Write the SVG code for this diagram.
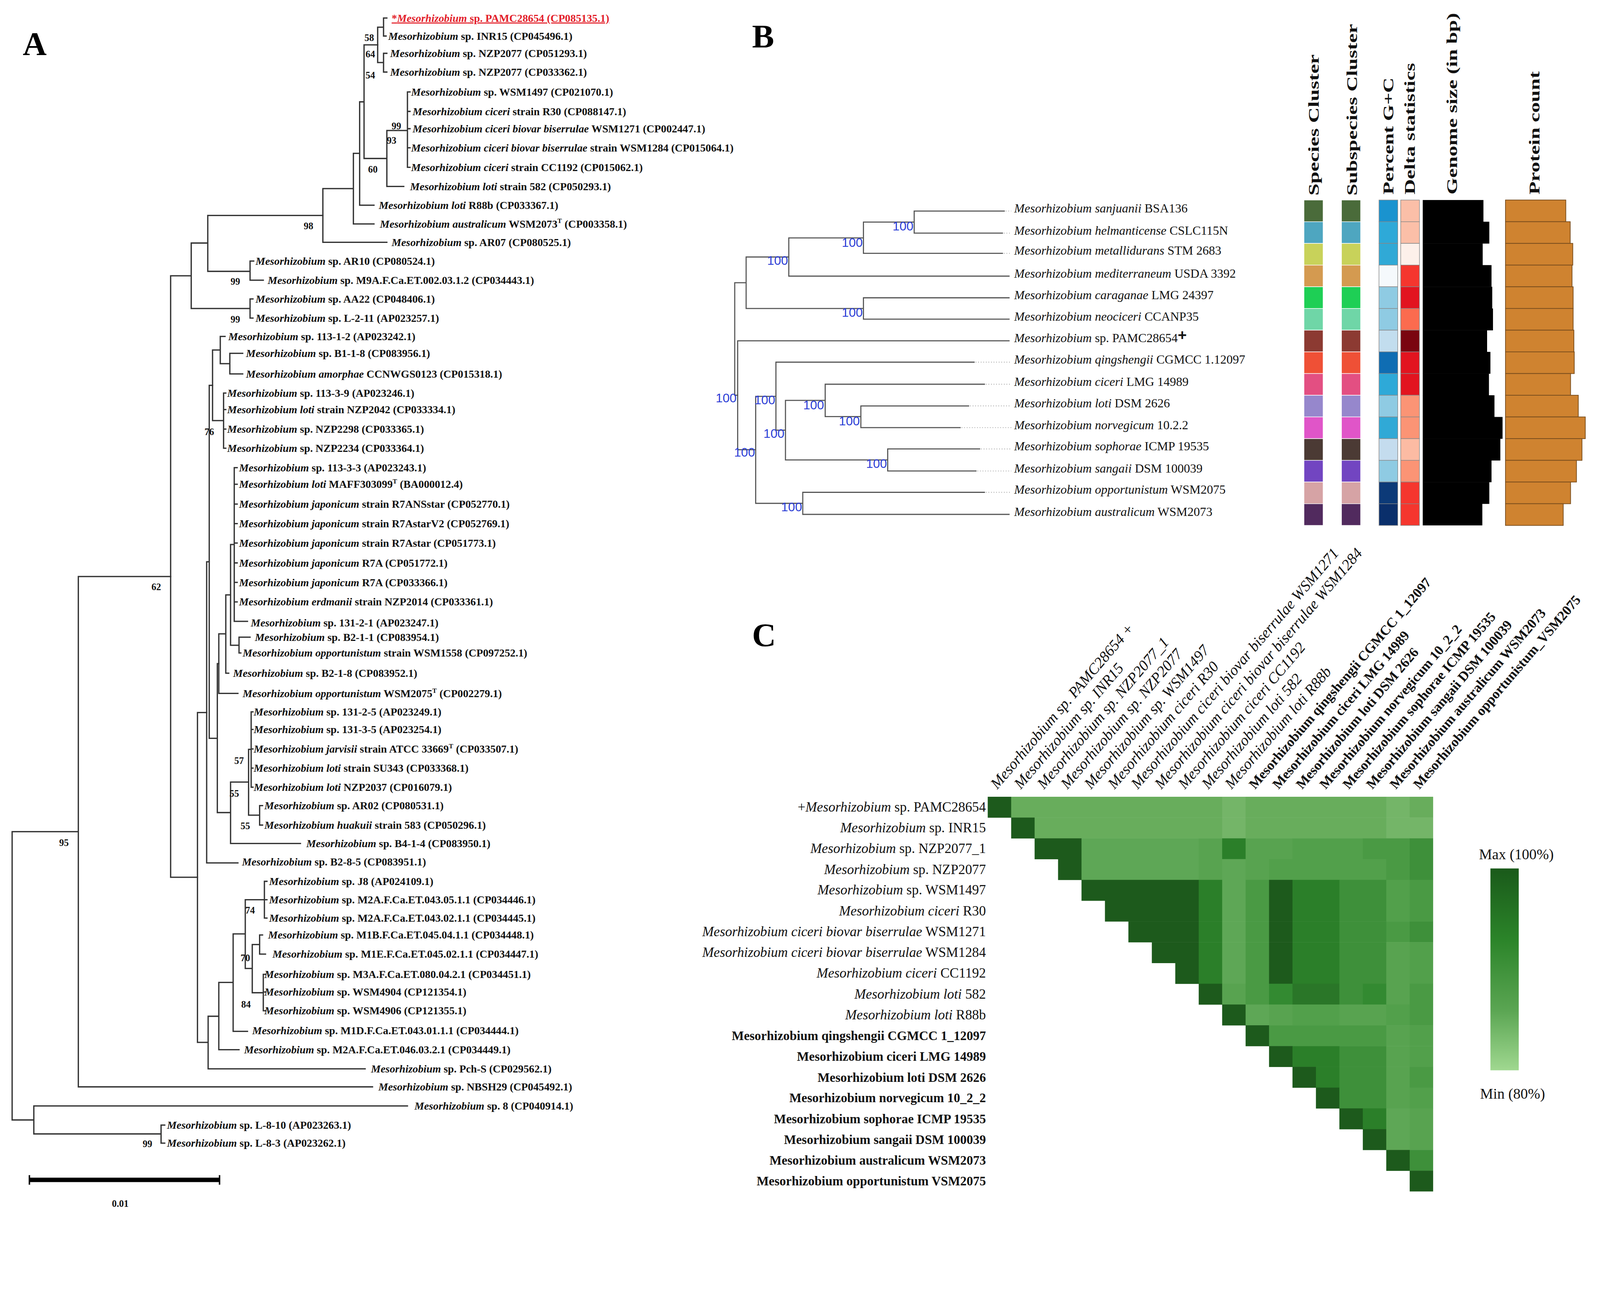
<svg xmlns="http://www.w3.org/2000/svg" width="4351" height="3308" viewBox="0 0 4351 3308" preserveAspectRatio="xMinYMin meet" style="max-width:100%">
<defs>
<linearGradient id="gLeg" x1="0" y1="0" x2="0" y2="1">
<stop offset="0" stop-color="#1a5a1a"/><stop offset="0.35" stop-color="#2b8429"/><stop offset="0.7" stop-color="#5aa552"/><stop offset="1" stop-color="#a0d890"/>
</linearGradient>
</defs>
<style>
.ta{font-family:"Liberation Serif",serif;font-size:29.5px;font-weight:bold;fill:#111}
.i{font-style:italic}
.sup{font-size:18px}
.bs{font-family:"Liberation Serif",serif;font-size:26px;font-weight:bold;fill:#111;text-anchor:middle}
.br{fill:none;stroke:#333;stroke-width:3.5;stroke-linecap:square}
.bt{fill:none;stroke:#555;stroke-width:3;stroke-linecap:square}
.dot{fill:none;stroke:#9a9a9a;stroke-width:2;stroke-dasharray:2 5}
.tb{font-family:"Liberation Serif",serif;font-size:34px;fill:#111}
.bv{font-family:"Liberation Sans",sans-serif;font-size:34px;fill:#2a3dd6;text-anchor:end}
.pl{font-family:"Liberation Serif",serif;font-size:90px;font-weight:bold;fill:#000}
.hd{font-family:"Liberation Serif",serif;font-size:56px;font-weight:bold;fill:#111}
.rl{font-family:"Liberation Serif",serif;font-size:37.5px;fill:#111;text-anchor:end}
.rb{font-weight:bold;font-size:35px}
.cl{font-family:"Liberation Serif",serif;font-size:41.5px;font-style:italic;fill:#111}
.cb{font-weight:bold;font-style:normal;font-size:37.5px}
.lg{font-family:"Liberation Serif",serif;font-size:40px;fill:#111}
.sc rect{stroke:#fff;stroke-width:1.5}
.gc rect{stroke:#888;stroke-width:1.5}
.pc rect{fill:#cf8330;stroke:#7a4e1e;stroke-width:2}
.D{fill:#1d5a1c}.S{fill:#2b7f29}.T{fill:#338a31}.V{fill:#2a7628}.M{fill:#3e903a}.N{fill:#4a9a44}.P{fill:#52a04b}.Q{fill:#58a350}.R{fill:#5ea756}.L{fill:#68ad5c}.K{fill:#74b568}
</style>
<rect width="4351" height="3308" fill="#fff"/>

<!-- Panel labels -->
<text class="pl" x="62" y="150">A</text>
<text class="pl" x="2045" y="130">B</text>
<text class="pl" x="2045" y="1758">C</text>

<!-- ===== Panel A tree connectors ===== -->
<g id="treeA-connectors" class="br">
<path d="M1043,49V98M1043,49H1052M1043,98H1050M1043,145V196M1043,145H1052M1043,196H1052M1027,74V170M1027,74H1043M1027,170H1043"/>
<path d="M1108,250V455M1108,250H1115M1108,303H1115M1108,350H1115M1108,402H1115M1108,455H1115M1052,355V507M1052,355H1108M1052,507H1098"/>
<path d="M990,122V431M990,122H1027M990,431H1052M978,277V558M978,277H990M978,558H1017M961,417V609M961,417H978M961,609H1017M878,513V659M878,513H961M878,659H1052"/>
<path d="M565,586V738M565,586H878M565,738H680M680,710V762M680,710H690M680,762H716M520,661V839M520,661H565M520,839H680M680,813V865M680,813H688M680,865H688M464,750V2386M464,750H520M464,2386H537"/>
<path d="M625,961V1017M625,961H660M625,1017H660M599,915V989M599,915H612M599,989H625M608,1069V1219M608,1069H614M608,1114H614M608,1167H614M608,1219H614M578,952V1144M578,952H599M578,1144H608"/>
<path d="M637,1272V1690M637,1272H645M637,1317H645M637,1371H645M637,1424H645M637,1477H645M637,1531H645M637,1584H645M637,1637H645M637,1690H673M650,1733V1776M650,1733H680M650,1776H655M627,1481V1755M627,1481H637M627,1755H650M614,1618V1831M614,1618H627M614,1831H622M595,1724V1886M595,1724H614M595,1886H647"/>
<path d="M683,1936V2141M683,1936H688M683,1984H688M683,2037H688M683,2089H688M683,2141H688M706,2191V2244M706,2191H714M706,2244H714M676,2038V2217M676,2038H683M676,2217H706M627,2127V2294M627,2127H676M627,2294H817M591,1805V2210M591,1805H595M591,2210H627M569,1048V2008M569,1048H578M569,2008H591M562,1528V2347M562,1528H569M562,2347H647"/>
<path d="M719,2397V2497M719,2397H726M719,2447H726M719,2497H726M706,2543V2595M706,2543H714M706,2595H722M716,2650V2749M716,2650H722M716,2698H722M716,2749H722M686,2569V2700M686,2569H706M686,2700H716M667,2447V2634M667,2447H719M667,2634H686M634,2540V2805M634,2540H667M634,2805H673M595,2672V2855M595,2672H634M595,2855H650M566,2764V2907M566,2764H595M566,2907H993M537,1938V2835M537,1938H562M537,2835H566"/>
<path d="M213,1568V2956M213,1568H464M213,2956H1013M438,3060V3109M438,3060H448M438,3109H448M92,3008V3084M92,3008H1108M92,3084H438M33,2262V3046M33,2262H213M33,3046H92"/>
</g>

<!-- bootstrap values A -->
<g id="bootA">
<text class="bs" x="1004" y="112">58</text><text class="bs" x="1007" y="156">64</text><text class="bs" x="1007" y="214">54</text>
<text class="bs" x="1078" y="352">99</text><text class="bs" x="1065" y="391">93</text><text class="bs" x="1014" y="469">60</text>
<text class="bs" x="839" y="624">98</text><text class="bs" x="640" y="774">99</text><text class="bs" x="640" y="877">99</text>
<text class="bs" x="569" y="1183">76</text><text class="bs" x="425" y="1605">62</text><text class="bs" x="650" y="2078">57</text>
<text class="bs" x="637" y="2167">55</text><text class="bs" x="667" y="2255">55</text><text class="bs" x="174" y="2301">95</text>
<text class="bs" x="680" y="2485">74</text><text class="bs" x="667" y="2614">70</text><text class="bs" x="669" y="2741">84</text>
<text class="bs" x="401" y="3120">99</text>
</g>

<!-- leaves A -->
<g id="a01"><text class="ta" x="1065" y="59" style="fill:#e3202a" text-decoration="underline">*<tspan class="i">Mesorhizobium</tspan> sp. PAMC28654 (CP085135.1)</text></g>
<g id="a02"><text class="ta" x="1056" y="108"><tspan class="i">Mesorhizobium</tspan> sp. INR15 (CP045496.1)</text></g>
<g id="a03"><text class="ta" x="1061" y="155"><tspan class="i">Mesorhizobium</tspan> sp. NZP2077 (CP051293.1)</text></g>
<g id="a04"><text class="ta" x="1061" y="206"><tspan class="i">Mesorhizobium</tspan> sp. NZP2077 (CP033362.1)</text></g>
<g id="a05"><text class="ta" x="1118" y="260"><tspan class="i">Mesorhizobium</tspan> sp. WSM1497 (CP021070.1)</text></g>
<g id="a06"><text class="ta" x="1122" y="313"><tspan class="i">Mesorhizobium ciceri</tspan> strain R30 (CP088147.1)</text></g>
<g id="a07"><text class="ta" x="1122" y="360"><tspan class="i">Mesorhizobium ciceri biovar biserrulae</tspan> WSM1271 (CP002447.1)</text></g>
<g id="a08"><text class="ta" x="1118" y="412"><tspan class="i">Mesorhizobium ciceri biovar biserrulae</tspan> strain WSM1284 (CP015064.1)</text></g>
<g id="a09"><text class="ta" x="1118" y="465"><tspan class="i">Mesorhizobium ciceri</tspan> strain CC1192 (CP015062.1)</text></g>
<g id="a10"><text class="ta" x="1115" y="517"><tspan class="i">Mesorhizobium loti</tspan> strain 582 (CP050293.1)</text></g>
<g id="a11"><text class="ta" x="1030" y="568"><tspan class="i">Mesorhizobium loti</tspan> R88b (CP033367.1)</text></g>
<g id="a12"><text class="ta" x="1033" y="619"><tspan class="i">Mesorhizobium australicum</tspan> WSM2073<tspan class="sup" dy="-12">T</tspan><tspan dy="12"> (CP003358.1)</tspan></text></g>
<g id="a13"><text class="ta" x="1065" y="669"><tspan class="i">Mesorhizobium</tspan> sp. AR07 (CP080525.1)</text></g>
<g id="a14"><text class="ta" x="695" y="720"><tspan class="i">Mesorhizobium</tspan> sp. AR10 (CP080524.1)</text></g>
<g id="a15"><text class="ta" x="728" y="772"><tspan class="i">Mesorhizobium</tspan> sp. M9A.F.Ca.ET.002.03.1.2 (CP034443.1)</text></g>
<g id="a16"><text class="ta" x="695" y="823"><tspan class="i">Mesorhizobium</tspan> sp. AA22 (CP048406.1)</text></g>
<g id="a17"><text class="ta" x="695" y="875"><tspan class="i">Mesorhizobium</tspan> sp. L-2-11 (AP023257.1)</text></g>
<g id="a18"><text class="ta" x="621" y="925"><tspan class="i">Mesorhizobium</tspan> sp. 113-1-2 (AP023242.1)</text></g>
<g id="a19"><text class="ta" x="669" y="971"><tspan class="i">Mesorhizobium</tspan> sp. B1-1-8 (CP083956.1)</text></g>
<g id="a20"><text class="ta" x="669" y="1027"><tspan class="i">Mesorhizobium amorphae</tspan> CCNWGS0123 (CP015318.1)</text></g>
<g id="a21"><text class="ta" x="618" y="1079"><tspan class="i">Mesorhizobium</tspan> sp. 113-3-9 (AP023246.1)</text></g>
<g id="a22"><text class="ta" x="618" y="1124"><tspan class="i">Mesorhizobium loti</tspan> strain NZP2042 (CP033334.1)</text></g>
<g id="a23"><text class="ta" x="618" y="1177"><tspan class="i">Mesorhizobium</tspan> sp. NZP2298 (CP033365.1)</text></g>
<g id="a24"><text class="ta" x="618" y="1229"><tspan class="i">Mesorhizobium</tspan> sp. NZP2234 (CP033364.1)</text></g>
<g id="a25"><text class="ta" x="650" y="1282"><tspan class="i">Mesorhizobium</tspan> sp. 113-3-3 (AP023243.1)</text></g>
<g id="a26"><text class="ta" x="650" y="1327"><tspan class="i">Mesorhizobium loti</tspan> MAFF303099<tspan class="sup" dy="-12">T</tspan><tspan dy="12"> (BA000012.4)</tspan></text></g>
<g id="a27"><text class="ta" x="650" y="1381"><tspan class="i">Mesorhizobium japonicum</tspan> strain R7ANSstar (CP052770.1)</text></g>
<g id="a28"><text class="ta" x="650" y="1434"><tspan class="i">Mesorhizobium japonicum</tspan> strain R7AstarV2 (CP052769.1)</text></g>
<g id="a29"><text class="ta" x="650" y="1487"><tspan class="i">Mesorhizobium japonicum</tspan> strain R7Astar (CP051773.1)</text></g>
<g id="a30"><text class="ta" x="650" y="1541"><tspan class="i">Mesorhizobium japonicum</tspan> R7A (CP051772.1)</text></g>
<g id="a31"><text class="ta" x="650" y="1594"><tspan class="i">Mesorhizobium japonicum</tspan> R7A (CP033366.1)</text></g>
<g id="a32"><text class="ta" x="650" y="1647"><tspan class="i">Mesorhizobium erdmanii</tspan> strain NZP2014 (CP033361.1)</text></g>
<g id="a33"><text class="ta" x="682" y="1704"><tspan class="i">Mesorhizobium</tspan> sp. 131-2-1 (AP023247.1)</text></g>
<g id="a34"><text class="ta" x="693" y="1743"><tspan class="i">Mesorhizobium</tspan> sp. B2-1-1 (CP083954.1)</text></g>
<g id="a35"><text class="ta" x="660" y="1786"><tspan class="i">Mesorhizobium opportunistum</tspan> strain WSM1558 (CP097252.1)</text></g>
<g id="a36"><text class="ta" x="634" y="1841"><tspan class="i">Mesorhizobium</tspan> sp. B2-1-8 (CP083952.1)</text></g>
<g id="a37"><text class="ta" x="660" y="1896"><tspan class="i">Mesorhizobium opportunistum</tspan> WSM2075<tspan class="sup" dy="-12">T</tspan><tspan dy="12"> (CP002279.1)</tspan></text></g>
<g id="a38"><text class="ta" x="690" y="1946"><tspan class="i">Mesorhizobium</tspan> sp. 131-2-5 (AP023249.1)</text></g>
<g id="a39"><text class="ta" x="690" y="1994"><tspan class="i">Mesorhizobium</tspan> sp. 131-3-5 (AP023254.1)</text></g>
<g id="a40"><text class="ta" x="690" y="2047"><tspan class="i">Mesorhizobium jarvisii</tspan> strain ATCC  33669<tspan class="sup" dy="-12">T</tspan><tspan dy="12"> (CP033507.1)</tspan></text></g>
<g id="a41"><text class="ta" x="690" y="2099"><tspan class="i">Mesorhizobium loti</tspan> strain SU343 (CP033368.1)</text></g>
<g id="a42"><text class="ta" x="690" y="2151"><tspan class="i">Mesorhizobium loti</tspan> NZP2037 (CP016079.1)</text></g>
<g id="a43"><text class="ta" x="719" y="2201"><tspan class="i">Mesorhizobium</tspan> sp. AR02 (CP080531.1)</text></g>
<g id="a44"><text class="ta" x="719" y="2254"><tspan class="i">Mesorhizobium huakuii</tspan> strain 583 (CP050296.1)</text></g>
<g id="a45"><text class="ta" x="833" y="2304"><tspan class="i">Mesorhizobium</tspan> sp. B4-1-4 (CP083950.1)</text></g>
<g id="a46"><text class="ta" x="658" y="2354"><tspan class="i">Mesorhizobium</tspan> sp. B2-8-5 (CP083951.1)</text></g>
<g id="a47"><text class="ta" x="732" y="2407"><tspan class="i">Mesorhizobium</tspan> sp. J8 (AP024109.1)</text></g>
<g id="a48"><text class="ta" x="732" y="2457"><tspan class="i">Mesorhizobium</tspan> sp. M2A.F.Ca.ET.043.05.1.1 (CP034446.1)</text></g>
<g id="a49"><text class="ta" x="732" y="2507"><tspan class="i">Mesorhizobium</tspan> sp. M2A.F.Ca.ET.043.02.1.1 (CP034445.1)</text></g>
<g id="a50"><text class="ta" x="729" y="2553"><tspan class="i">Mesorhizobium</tspan> sp. M1B.F.Ca.ET.045.04.1.1 (CP034448.1)</text></g>
<g id="a51"><text class="ta" x="741" y="2605"><tspan class="i">Mesorhizobium</tspan> sp. M1E.F.Ca.ET.045.02.1.1 (CP034447.1)</text></g>
<g id="a52"><text class="ta" x="719" y="2660"><tspan class="i">Mesorhizobium</tspan> sp. M3A.F.Ca.ET.080.04.2.1 (CP034451.1)</text></g>
<g id="a53"><text class="ta" x="719" y="2708"><tspan class="i">Mesorhizobium</tspan> sp. WSM4904 (CP121354.1)</text></g>
<g id="a54"><text class="ta" x="719" y="2759"><tspan class="i">Mesorhizobium</tspan> sp. WSM4906 (CP121355.1)</text></g>
<g id="a55"><text class="ta" x="686" y="2813"><tspan class="i">Mesorhizobium</tspan> sp. M1D.F.Ca.ET.043.01.1.1 (CP034444.1)</text></g>
<g id="a56"><text class="ta" x="664" y="2865"><tspan class="i">Mesorhizobium</tspan> sp. M2A.F.Ca.ET.046.03.2.1 (CP034449.1)</text></g>
<g id="a57"><text class="ta" x="1009" y="2917"><tspan class="i">Mesorhizobium</tspan> sp. Pch-S (CP029562.1)</text></g>
<g id="a58"><text class="ta" x="1029" y="2966"><tspan class="i">Mesorhizobium</tspan> sp. NBSH29 (CP045492.1)</text></g>
<g id="a59"><text class="ta" x="1127" y="3018"><tspan class="i">Mesorhizobium</tspan> sp. 8 (CP040914.1)</text></g>
<g id="a60"><text class="ta" x="454" y="3070"><tspan class="i">Mesorhizobium</tspan> sp. L-8-10 (AP023263.1)</text></g>
<g id="a61"><text class="ta" x="454" y="3119"><tspan class="i">Mesorhizobium</tspan> sp. L-8-3 (AP023262.1)</text></g>

<!-- scale bar -->
<g id="scalebar">
<rect x="80" y="3203" width="517" height="12" fill="#000"/>
<path d="M80,3196V3222M597,3196V3222" stroke="#000" stroke-width="4"/>
<text class="bs" x="327" y="3282">0.01</text>
</g>

<!-- ===== Panel B tree ===== -->
<g id="treeB-connectors" class="bt">
<path d="M2486,574V634M2486,574H2731M2486,634H2726M2348,604V689M2348,604H2486M2348,689H2726M2145,647V751M2145,647H2348M2145,751H2744M2348,810V868M2348,810H2744M2348,868H2744M2029,699V839M2029,699H2145M2029,839H2348M1998,769V1075M1998,769H2029M1998,1075H2006"/>
<path d="M2006,927V1223M2006,927H2744M2006,1223H2055M2055,1078V1369M2055,1078H2110M2055,1369H2183M2110,985V1170M2110,985H2649M2110,1170H2136M2136,1089V1251M2136,1089H2244M2136,1251H2414M2244,1045V1133M2244,1045H2677M2244,1133H2341M2341,1104V1163M2341,1104H2634M2341,1163H2611M2414,1221V1281M2414,1221H2664M2414,1281H2654M2183,1339V1399M2183,1339H2677M2183,1399H2744"/>
</g>
<g id="treeB-dots" class="dot">
<path d="M2735,574H2750M2730,634H2750M2730,689H2750M2653,985H2750M2681,1045H2750M2638,1104H2750M2615,1163H2750M2668,1221H2750M2658,1281H2750M2681,1339H2750"/>
</g>
<g id="bootB">
<text class="bv" x="2484" y="627">100</text><text class="bv" x="2346" y="671">100</text><text class="bv" x="2143" y="720">100</text>
<text class="bv" x="2346" y="861">100</text><text class="bv" x="2003" y="1094">100</text><text class="bv" x="2108" y="1099">100</text>
<text class="bv" x="2133" y="1191">100</text><text class="bv" x="2241" y="1113">100</text><text class="bv" x="2338" y="1157">100</text>
<text class="bv" x="2412" y="1273">100</text><text class="bv" x="2181" y="1390">100</text><text class="bv" x="2053" y="1242">100</text>
</g>
<g id="b01"><text class="tb" x="2758" y="578"><tspan class="i">Mesorhizobium sanjuanii</tspan> BSA136</text></g>
<g id="b02"><text class="tb" x="2758" y="638"><tspan class="i">Mesorhizobium helmanticense</tspan> CSLC115N</text></g>
<g id="b03"><text class="tb" x="2758" y="693"><tspan class="i">Mesorhizobium metallidurans</tspan> STM 2683</text></g>
<g id="b04"><text class="tb" x="2758" y="755"><tspan class="i">Mesorhizobium mediterraneum</tspan> USDA 3392</text></g>
<g id="b05"><text class="tb" x="2758" y="814"><tspan class="i">Mesorhizobium caraganae</tspan> LMG 24397</text></g>
<g id="b06"><text class="tb" x="2758" y="872"><tspan class="i">Mesorhizobium neociceri</tspan> CCANP35</text></g>
<g id="b07"><text class="tb" x="2758" y="931"><tspan class="i">Mesorhizobium</tspan> sp. PAMC28654<tspan font-weight="bold" font-size="42" font-family="Liberation Sans, sans-serif" dy="-6">+</tspan></text></g>
<g id="b08"><text class="tb" x="2758" y="989"><tspan class="i">Mesorhizobium qingshengii</tspan> CGMCC 1.12097</text></g>
<g id="b09"><text class="tb" x="2758" y="1049"><tspan class="i">Mesorhizobium ciceri</tspan> LMG 14989</text></g>
<g id="b10"><text class="tb" x="2758" y="1108"><tspan class="i">Mesorhizobium loti</tspan> DSM 2626</text></g>
<g id="b11"><text class="tb" x="2758" y="1167"><tspan class="i">Mesorhizobium norvegicum</tspan> 10.2.2</text></g>
<g id="b12"><text class="tb" x="2758" y="1225"><tspan class="i">Mesorhizobium sophorae</tspan> ICMP 19535</text></g>
<g id="b13"><text class="tb" x="2758" y="1285"><tspan class="i">Mesorhizobium sangaii</tspan> DSM 100039</text></g>
<g id="b14"><text class="tb" x="2758" y="1343"><tspan class="i">Mesorhizobium opportunistum</tspan> WSM2075</text></g>
<g id="b15"><text class="tb" x="2758" y="1403"><tspan class="i">Mesorhizobium australicum</tspan> WSM2073</text></g>

<!-- strip headers -->
<g id="stripHeaders">
<text class="hd" transform="translate(3586,532) rotate(-90) scale(1,0.7)" textLength="384" lengthAdjust="spacingAndGlyphs">Species Cluster</text>
<text class="hd" transform="translate(3690,532) rotate(-90) scale(1,0.7)" textLength="467" lengthAdjust="spacingAndGlyphs">Subspecies Cluster</text>
<text class="hd" transform="translate(3789,529) rotate(-90) scale(1,0.7)" textLength="318" lengthAdjust="spacingAndGlyphs">Percent G+C</text>
<text class="hd" transform="translate(3848,529) rotate(-90) scale(1,0.7)" textLength="358" lengthAdjust="spacingAndGlyphs">Delta statistics</text>
<text class="hd" transform="translate(3962,529) rotate(-90) scale(1,0.7)" textLength="494" lengthAdjust="spacingAndGlyphs">Genome size (in bp)</text>
<text class="hd" transform="translate(4186,529) rotate(-90) scale(1,0.7)" textLength="335" lengthAdjust="spacingAndGlyphs">Protein count</text>
</g>

<!-- strips -->
<g id="speciesCluster" class="sc">
<rect x="3546" y="544" width="52" height="59" fill="#4a6b3a"/><rect x="3546" y="603" width="52" height="59" fill="#4ea6c0"/><rect x="3546" y="662" width="52" height="59" fill="#c8d25a"/><rect x="3546" y="721" width="52" height="59" fill="#d49a50"/><rect x="3546" y="780" width="52" height="59" fill="#1ecf55"/><rect x="3546" y="839" width="52" height="59" fill="#6fd6a7"/><rect x="3546" y="898" width="52" height="59" fill="#8c3a32"/><rect x="3546" y="957" width="52" height="59" fill="#ef5036"/><rect x="3546" y="1016" width="52" height="59" fill="#e34f82"/><rect x="3546" y="1075" width="52" height="59" fill="#9687cc"/><rect x="3546" y="1134" width="52" height="59" fill="#e055c8"/><rect x="3546" y="1193" width="52" height="59" fill="#4b3a34"/><rect x="3546" y="1252" width="52" height="59" fill="#7245c1"/><rect x="3546" y="1311" width="52" height="59" fill="#d6a3a5"/><rect x="3546" y="1370" width="52" height="59" fill="#512a5e"/>
</g>
<g id="subspeciesCluster" class="sc">
<rect x="3648" y="544" width="52" height="59" fill="#4a6b3a"/><rect x="3648" y="603" width="52" height="59" fill="#4ea6c0"/><rect x="3648" y="662" width="52" height="59" fill="#c8d25a"/><rect x="3648" y="721" width="52" height="59" fill="#d49a50"/><rect x="3648" y="780" width="52" height="59" fill="#1ecf55"/><rect x="3648" y="839" width="52" height="59" fill="#6fd6a7"/><rect x="3648" y="898" width="52" height="59" fill="#8c3a32"/><rect x="3648" y="957" width="52" height="59" fill="#ef5036"/><rect x="3648" y="1016" width="52" height="59" fill="#e34f82"/><rect x="3648" y="1075" width="52" height="59" fill="#9687cc"/><rect x="3648" y="1134" width="52" height="59" fill="#e055c8"/><rect x="3648" y="1193" width="52" height="59" fill="#4b3a34"/><rect x="3648" y="1252" width="52" height="59" fill="#7245c1"/><rect x="3648" y="1311" width="52" height="59" fill="#d6a3a5"/><rect x="3648" y="1370" width="52" height="59" fill="#512a5e"/>
</g>
<g id="percentGC" class="gc">
<rect x="3750" y="544" width="51" height="59" fill="#1a93cf"/><rect x="3750" y="603" width="51" height="59" fill="#2ea9d8"/><rect x="3750" y="662" width="51" height="59" fill="#30a9d6"/><rect x="3750" y="721" width="51" height="59" fill="#f5f9fc"/><rect x="3750" y="780" width="51" height="59" fill="#8fcbe3"/><rect x="3750" y="839" width="51" height="59" fill="#8fcbe3"/><rect x="3750" y="898" width="51" height="59" fill="#c2ddee"/><rect x="3750" y="957" width="51" height="59" fill="#0f6db3"/><rect x="3750" y="1016" width="51" height="59" fill="#2ea9d8"/><rect x="3750" y="1075" width="51" height="59" fill="#8fcbe3"/><rect x="3750" y="1134" width="51" height="59" fill="#30a9d6"/><rect x="3750" y="1193" width="51" height="59" fill="#c4dcee"/><rect x="3750" y="1252" width="51" height="59" fill="#8fcbe3"/><rect x="3750" y="1311" width="51" height="59" fill="#0c3a78"/><rect x="3750" y="1370" width="51" height="59" fill="#0a2f6b"/>
</g>
<g id="deltaStats" class="gc">
<rect x="3809" y="544" width="51" height="59" fill="#fbbfa8"/><rect x="3809" y="603" width="51" height="59" fill="#fbbfa8"/><rect x="3809" y="662" width="51" height="59" fill="#fdf0ea"/><rect x="3809" y="721" width="51" height="59" fill="#f5362e"/><rect x="3809" y="780" width="51" height="59" fill="#e2141f"/><rect x="3809" y="839" width="51" height="59" fill="#fb6b4f"/><rect x="3809" y="898" width="51" height="59" fill="#7a0510"/><rect x="3809" y="957" width="51" height="59" fill="#e2141f"/><rect x="3809" y="1016" width="51" height="59" fill="#e2141f"/><rect x="3809" y="1075" width="51" height="59" fill="#fb9475"/><rect x="3809" y="1134" width="51" height="59" fill="#fb9475"/><rect x="3809" y="1193" width="51" height="59" fill="#fcbba3"/><rect x="3809" y="1252" width="51" height="59" fill="#fb9475"/><rect x="3809" y="1311" width="51" height="59" fill="#f5362e"/><rect x="3809" y="1370" width="51" height="59" fill="#f5362e"/>
</g>
<g id="genomeSize" fill="#000">
<rect x="3869" y="544" width="165" height="59.5"/><rect x="3869" y="603" width="181" height="59.5"/><rect x="3869" y="662" width="163" height="59.5"/><rect x="3869" y="721" width="187" height="59.5"/><rect x="3869" y="780" width="189" height="59.5"/><rect x="3869" y="839" width="191" height="59.5"/><rect x="3869" y="898" width="175" height="59.5"/><rect x="3869" y="957" width="184" height="59.5"/><rect x="3869" y="1016" width="180" height="59.5"/><rect x="3869" y="1075" width="195" height="59.5"/><rect x="3869" y="1134" width="217" height="59.5"/><rect x="3869" y="1193" width="211" height="59.5"/><rect x="3869" y="1252" width="187" height="59.5"/><rect x="3869" y="1311" width="181" height="59.5"/><rect x="3869" y="1370" width="162" height="59"/>
</g>
<g id="proteinCount" class="pc">
<rect x="4094" y="544" width="164" height="59"/><rect x="4094" y="603" width="176" height="59"/><rect x="4094" y="662" width="183" height="59"/><rect x="4094" y="721" width="181" height="59"/><rect x="4094" y="780" width="184" height="59"/><rect x="4094" y="839" width="184" height="59"/><rect x="4094" y="898" width="186" height="59"/><rect x="4094" y="957" width="187" height="59"/><rect x="4094" y="1016" width="177" height="59"/><rect x="4094" y="1075" width="198" height="59"/><rect x="4094" y="1134" width="217" height="59"/><rect x="4094" y="1193" width="208" height="59"/><rect x="4094" y="1252" width="193" height="59"/><rect x="4094" y="1311" width="177" height="59"/><rect x="4094" y="1370" width="157" height="59"/>
</g>

<!-- ===== Panel C heatmap ===== -->
<g id="heatmap">
<rect class="D" x="2686" y="2167" width="64.2" height="57"/><rect class="L" x="2749.75" y="2167" width="574.2" height="57"/><rect class="K" x="3323.5" y="2167" width="64.2" height="57"/><rect class="L" x="3387.25" y="2167" width="383" height="57"/><rect class="K" x="3769.75" y="2167" width="64.2" height="57"/><rect class="L" x="3833.5" y="2167" width="63.75" height="57"/>
<rect class="D" x="2749.75" y="2223.5" width="64.2" height="57"/><rect class="L" x="2813.5" y="2223.5" width="510.5" height="57"/><rect class="K" x="3323.5" y="2223.5" width="64.2" height="57"/><rect class="L" x="3387.25" y="2223.5" width="383" height="57"/><rect class="K" x="3769.75" y="2223.5" width="127.5" height="57"/>
<rect class="D" x="2813.5" y="2280" width="128" height="57"/><rect class="R" x="2941" y="2280" width="319.2" height="57"/><rect class="Q" x="3259.75" y="2280" width="64.2" height="57"/><rect class="S" x="3323.5" y="2280" width="64.2" height="57"/><rect class="Q" x="3387.25" y="2280" width="128" height="57"/><rect class="P" x="3514.75" y="2280" width="191.7" height="57"/><rect class="N" x="3706" y="2280" width="128" height="57"/><rect class="M" x="3833.5" y="2280" width="63.75" height="57"/>
<rect class="D" x="2877.25" y="2336.5" width="64.2" height="57"/><rect class="R" x="2941" y="2336.5" width="319.2" height="57"/><rect class="Q" x="3259.75" y="2336.5" width="64.2" height="57"/><rect class="R" x="3323.5" y="2336.5" width="64.2" height="57"/><rect class="Q" x="3387.25" y="2336.5" width="64.2" height="57"/><rect class="P" x="3451" y="2336.5" width="319.2" height="57"/><rect class="N" x="3769.75" y="2336.5" width="64.2" height="57"/><rect class="M" x="3833.5" y="2336.5" width="63.75" height="57"/>
<rect class="D" x="2941" y="2393" width="319.2" height="57"/><rect class="S" x="3259.75" y="2393" width="64.2" height="57"/><rect class="R" x="3323.5" y="2393" width="64.2" height="57"/><rect class="N" x="3387.25" y="2393" width="64.2" height="57"/><rect class="D" x="3451" y="2393" width="64.2" height="57"/><rect class="S" x="3514.75" y="2393" width="128" height="57"/><rect class="M" x="3642.25" y="2393" width="128" height="57"/><rect class="P" x="3769.75" y="2393" width="64.2" height="57"/><rect class="N" x="3833.5" y="2393" width="63.75" height="57"/>
<rect class="D" x="3004.75" y="2449.5" width="255.5" height="57"/><rect class="S" x="3259.75" y="2449.5" width="64.2" height="57"/><rect class="R" x="3323.5" y="2449.5" width="64.2" height="57"/><rect class="N" x="3387.25" y="2449.5" width="64.2" height="57"/><rect class="D" x="3451" y="2449.5" width="64.2" height="57"/><rect class="S" x="3514.75" y="2449.5" width="128" height="57"/><rect class="M" x="3642.25" y="2449.5" width="128" height="57"/><rect class="P" x="3769.75" y="2449.5" width="64.2" height="57"/><rect class="N" x="3833.5" y="2449.5" width="63.75" height="57"/>
<rect class="D" x="3068.5" y="2506" width="191.7" height="57"/><rect class="S" x="3259.75" y="2506" width="64.2" height="57"/><rect class="R" x="3323.5" y="2506" width="64.2" height="57"/><rect class="N" x="3387.25" y="2506" width="64.2" height="57"/><rect class="D" x="3451" y="2506" width="64.2" height="57"/><rect class="S" x="3514.75" y="2506" width="128" height="57"/><rect class="M" x="3642.25" y="2506" width="128" height="57"/><rect class="N" x="3769.75" y="2506" width="64.2" height="57"/><rect class="M" x="3833.5" y="2506" width="63.75" height="57"/>
<rect class="D" x="3132.25" y="2562.5" width="128" height="57"/><rect class="S" x="3259.75" y="2562.5" width="64.2" height="57"/><rect class="R" x="3323.5" y="2562.5" width="64.2" height="57"/><rect class="N" x="3387.25" y="2562.5" width="64.2" height="57"/><rect class="D" x="3451" y="2562.5" width="64.2" height="57"/><rect class="S" x="3514.75" y="2562.5" width="128" height="57"/><rect class="M" x="3642.25" y="2562.5" width="128" height="57"/><rect class="Q" x="3769.75" y="2562.5" width="64.2" height="57"/><rect class="P" x="3833.5" y="2562.5" width="63.75" height="57"/>
<rect class="D" x="3196" y="2619" width="64.2" height="57"/><rect class="S" x="3259.75" y="2619" width="64.2" height="57"/><rect class="R" x="3323.5" y="2619" width="64.2" height="57"/><rect class="N" x="3387.25" y="2619" width="64.2" height="57"/><rect class="D" x="3451" y="2619" width="64.2" height="57"/><rect class="S" x="3514.75" y="2619" width="128" height="57"/><rect class="M" x="3642.25" y="2619" width="128" height="57"/><rect class="Q" x="3769.75" y="2619" width="64.2" height="57"/><rect class="P" x="3833.5" y="2619" width="63.75" height="57"/>
<rect class="D" x="3259.75" y="2675.5" width="64.2" height="57"/><rect class="Q" x="3323.5" y="2675.5" width="64.2" height="57"/><rect class="N" x="3387.25" y="2675.5" width="64.2" height="57"/><rect class="T" x="3451" y="2675.5" width="64.2" height="57"/><rect class="V" x="3514.75" y="2675.5" width="128" height="57"/><rect class="M" x="3642.25" y="2675.5" width="64.2" height="57"/><rect class="T" x="3706" y="2675.5" width="64.2" height="57"/><rect class="Q" x="3769.75" y="2675.5" width="64.2" height="57"/><rect class="N" x="3833.5" y="2675.5" width="63.75" height="57"/>
<rect class="D" x="3323.5" y="2732" width="64.2" height="57"/><rect class="R" x="3387.25" y="2732" width="64.2" height="57"/><rect class="Q" x="3451" y="2732" width="64.2" height="57"/><rect class="P" x="3514.75" y="2732" width="128" height="57"/><rect class="Q" x="3642.25" y="2732" width="128" height="57"/><rect class="P" x="3769.75" y="2732" width="64.2" height="57"/><rect class="N" x="3833.5" y="2732" width="63.75" height="57"/>
<rect class="D" x="3387.25" y="2788.5" width="64.2" height="57"/><rect class="N" x="3451" y="2788.5" width="319.2" height="57"/><rect class="Q" x="3769.75" y="2788.5" width="64.2" height="57"/><rect class="P" x="3833.5" y="2788.5" width="63.75" height="57"/>
<rect class="D" x="3451" y="2845" width="64.2" height="57"/><rect class="S" x="3514.75" y="2845" width="128" height="57"/><rect class="M" x="3642.25" y="2845" width="128" height="57"/><rect class="Q" x="3769.75" y="2845" width="64.2" height="57"/><rect class="P" x="3833.5" y="2845" width="63.75" height="57"/>
<rect class="D" x="3514.75" y="2901.5" width="64.2" height="57"/><rect class="S" x="3578.5" y="2901.5" width="64.2" height="57"/><rect class="M" x="3642.25" y="2901.5" width="128" height="57"/><rect class="Q" x="3769.75" y="2901.5" width="64.2" height="57"/><rect class="N" x="3833.5" y="2901.5" width="63.75" height="57"/>
<rect class="D" x="3578.5" y="2958" width="64.2" height="57"/><rect class="M" x="3642.25" y="2958" width="128" height="57"/><rect class="Q" x="3769.75" y="2958" width="64.2" height="57"/><rect class="P" x="3833.5" y="2958" width="63.75" height="57"/>
<rect class="D" x="3642.25" y="3014.5" width="64.2" height="57"/><rect class="S" x="3706" y="3014.5" width="64.2" height="57"/><rect class="R" x="3769.75" y="3014.5" width="64.2" height="57"/><rect class="Q" x="3833.5" y="3014.5" width="63.75" height="57"/>
<rect class="D" x="3706" y="3071" width="64.2" height="57"/><rect class="R" x="3769.75" y="3071" width="64.2" height="57"/><rect class="Q" x="3833.5" y="3071" width="63.75" height="57"/>
<rect class="D" x="3769.75" y="3127.5" width="64.2" height="57"/><rect class="M" x="3833.5" y="3127.5" width="63.75" height="57"/>
<rect class="D" x="3833.5" y="3184" width="63.75" height="56.5"/>
</g>

<!-- row labels -->
<g id="c-rows">
<g id="r01"><text class="rl" x="2681" y="2207">+<tspan class="i">Mesorhizobium</tspan>  sp. PAMC28654</text></g>
<g id="r02"><text class="rl" x="2681" y="2264"><tspan class="i">Mesorhizobium</tspan>  sp. INR15</text></g>
<g id="r03"><text class="rl" x="2681" y="2320"><tspan class="i">Mesorhizobium</tspan>  sp. NZP2077_1</text></g>
<g id="r04"><text class="rl" x="2681" y="2377"><tspan class="i">Mesorhizobium</tspan>  sp. NZP2077</text></g>
<g id="r05"><text class="rl" x="2681" y="2433"><tspan class="i">Mesorhizobium</tspan>  sp. WSM1497</text></g>
<g id="r06"><text class="rl" x="2681" y="2490"><tspan class="i">Mesorhizobium ciceri</tspan>  R30</text></g>
<g id="r07"><text class="rl" x="2681" y="2546"><tspan class="i">Mesorhizobium ciceri biovar biserrulae</tspan>  WSM1271</text></g>
<g id="r08"><text class="rl" x="2681" y="2603"><tspan class="i">Mesorhizobium ciceri biovar biserrulae</tspan>  WSM1284</text></g>
<g id="r09"><text class="rl" x="2681" y="2659"><tspan class="i">Mesorhizobium ciceri</tspan>  CC1192</text></g>
<g id="r10"><text class="rl" x="2681" y="2716"><tspan class="i">Mesorhizobium loti</tspan>  582</text></g>
<g id="r11"><text class="rl" x="2681" y="2772"><tspan class="i">Mesorhizobium loti</tspan>  R88b</text></g>
<g id="r12"><text class="rl rb" x="2681" y="2829">Mesorhizobium qingshengii CGMCC 1_12097</text></g>
<g id="r13"><text class="rl rb" x="2681" y="2885">Mesorhizobium ciceri LMG 14989</text></g>
<g id="r14"><text class="rl rb" x="2681" y="2942">Mesorhizobium loti DSM 2626</text></g>
<g id="r15"><text class="rl rb" x="2681" y="2998">Mesorhizobium norvegicum 10_2_2</text></g>
<g id="r16"><text class="rl rb" x="2681" y="3055">Mesorhizobium sophorae ICMP 19535</text></g>
<g id="r17"><text class="rl rb" x="2681" y="3111">Mesorhizobium sangaii DSM 100039</text></g>
<g id="r18"><text class="rl rb" x="2681" y="3168">Mesorhizobium australicum WSM2073</text></g>
<g id="r19"><text class="rl rb" x="2681" y="3224">Mesorhizobium opportunistum VSM2075</text></g>
</g>

<!-- column labels -->
<g id="c-cols">
<g id="k01"><text class="cl" transform="translate(2712,2148) rotate(-49.5)">Mesorhizobium sp. PAMC28654 +</text></g>
<g id="k02"><text class="cl" transform="translate(2776,2148) rotate(-49.5)">Mesorhizobium sp. INR15</text></g>
<g id="k03"><text class="cl" transform="translate(2839,2148) rotate(-49.5)">Mesorhizobium sp. NZP2077_1</text></g>
<g id="k04"><text class="cl" transform="translate(2903,2148) rotate(-49.5)">Mesorhizobium sp. NZP2077</text></g>
<g id="k05"><text class="cl" transform="translate(2967,2148) rotate(-49.5)">Mesorhizobium sp. WSM1497</text></g>
<g id="k06"><text class="cl" transform="translate(3031,2148) rotate(-49.5)">Mesorhizobium ciceri R30</text></g>
<g id="k07"><text class="cl" transform="translate(3094,2148) rotate(-49.5)">Mesorhizobium ciceri biovar biserrulae WSM1271</text></g>
<g id="k08"><text class="cl" transform="translate(3158,2148) rotate(-49.5)">Mesorhizobium ciceri biovar biserrulae WSM1284</text></g>
<g id="k09"><text class="cl" transform="translate(3222,2148) rotate(-49.5)">Mesorhizobium ciceri CC1192</text></g>
<g id="k10"><text class="cl" transform="translate(3286,2148) rotate(-49.5)">Mesorhizobium loti 582</text></g>
<g id="k11"><text class="cl" transform="translate(3349,2148) rotate(-49.5)">Mesorhizobium loti R88b</text></g>
<g id="k12"><text class="cl cb" transform="translate(3413,2148) rotate(-49.5)">Mesorhizobium qingshengii CGMCC 1_12097</text></g>
<g id="k13"><text class="cl cb" transform="translate(3477,2148) rotate(-49.5)">Mesorhizobium ciceri LMG 14989</text></g>
<g id="k14"><text class="cl cb" transform="translate(3541,2148) rotate(-49.5)">Mesorhizobium loti DSM 2626</text></g>
<g id="k15"><text class="cl cb" transform="translate(3605,2148) rotate(-49.5)">Mesorhizobium norvegicum 10_2_2</text></g>
<g id="k16"><text class="cl cb" transform="translate(3668,2148) rotate(-49.5)">Mesorhizobium sophorae ICMP 19535</text></g>
<g id="k17"><text class="cl cb" transform="translate(3732,2148) rotate(-49.5)">Mesorhizobium sangaii DSM 100039</text></g>
<g id="k18"><text class="cl cb" transform="translate(3796,2148) rotate(-49.5)">Mesorhizobium australicum WSM2073</text></g>
<g id="k19"><text class="cl cb" transform="translate(3860,2148) rotate(-49.5)">Mesorhizobium opportunistum_VSM2075</text></g>
</g>

<!-- legend -->
<g id="legend">
<text class="lg" x="4022" y="2337">Max (100%)</text>
<rect x="4053" y="2362" width="77" height="549" fill="url(#gLeg)"/>
<text class="lg" x="4025" y="2988">Min (80%)</text>
</g>
</svg>
